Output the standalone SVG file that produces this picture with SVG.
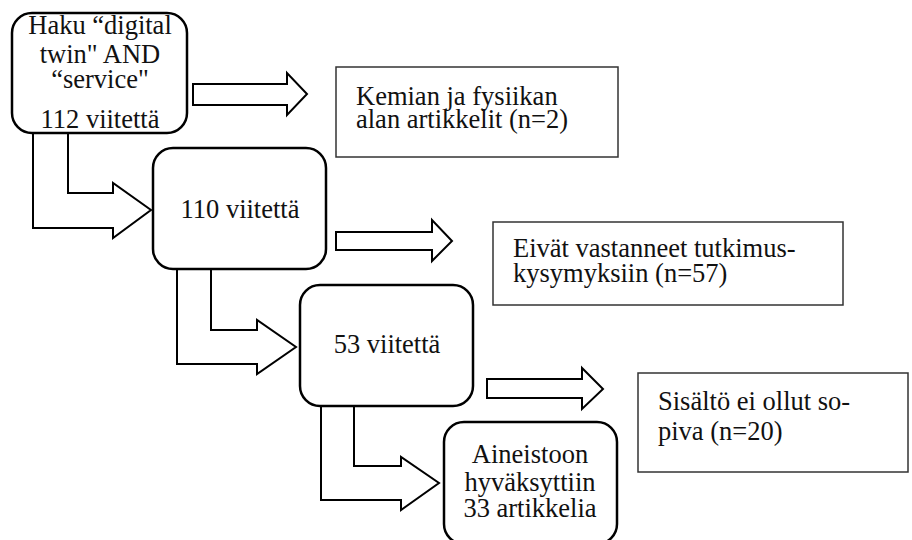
<svg xmlns="http://www.w3.org/2000/svg" width="912" height="540" viewBox="0 0 912 540">
<style>
.rb{fill:#fff;stroke:#000;stroke-width:2.5}
.bx{fill:#fff;stroke:#333;stroke-width:1.5}
.ar{fill:#fff;stroke:#000;stroke-width:2;stroke-linejoin:miter}
text{font-family:"Liberation Serif","Times New Roman",serif;font-size:26.5px;fill:#111}
.c{text-anchor:middle}
</style>
<rect width="912" height="540" fill="#fff"/>
<g id="connectors">
<polygon class="ar" points="193,84 287,84 287,73 307,94 287,115 287,105 193,105"/>
<polygon class="ar" points="336,232 432,232 432,220 452,241 432,261 432,250 336,250"/>
<polygon class="ar" points="487,379 582,379 582,368 603,389 582,409 582,398 487,398"/>
<polygon class="ar" points="33,133 33,228 113,228 113,238 151,210 113,183 113,193 68,193 68,133"/>
<polygon class="ar" points="177,269 177,364 257,364 257,374 296,347 257,320 257,330 211,330 211,269"/>
<polygon class="ar" points="321,406 321,500 401,500 401,510 439,483 401,457 401,466 354,466 354,406"/>
</g>
<g id="n1">
<rect class="rb" x="12" y="13" width="175" height="120" rx="20"/>
<text class="c" x="100" y="34">Haku “digital</text>
<text class="c" x="100" y="63">twin" AND</text>
<text class="c" x="100" y="88">“service"</text>
<text class="c" x="100" y="128">112 viitettä</text>
</g>
<g id="n2">
<rect class="rb" x="153" y="148" width="173" height="121" rx="20"/>
<text class="c" x="240" y="218">110 viitettä</text>
</g>
<g id="n3">
<rect class="rb" x="300" y="285" width="173" height="121" rx="20"/>
<text class="c" x="387" y="353">53 viitettä</text>
</g>
<g id="n4">
<rect class="rb" x="444" y="422" width="173" height="122" rx="20"/>
<text class="c" x="530" y="463">Aineistoon</text>
<text class="c" x="530" y="491">hyväksyttiin</text>
<text class="c" x="530" y="517">33 artikkelia</text>
</g>
<g id="e1">
<rect class="bx" x="336" y="67" width="282" height="90"/>
<text x="356" y="105">Kemian ja fysiikan</text>
<text x="356" y="128">alan artikkelit (n=2)</text>
</g>
<g id="e2">
<rect class="bx" x="493" y="222" width="350" height="83"/>
<text x="513" y="257">Eivät vastanneet tutkimus-</text>
<text x="513" y="282">kysymyksiin (n=57)</text>
</g>
<g id="e3">
<rect class="bx" x="638" y="373" width="270" height="99"/>
<text x="658" y="410">Sisältö ei ollut so-</text>
<text x="658" y="440">piva (n=20)</text>
</g>
</svg>
